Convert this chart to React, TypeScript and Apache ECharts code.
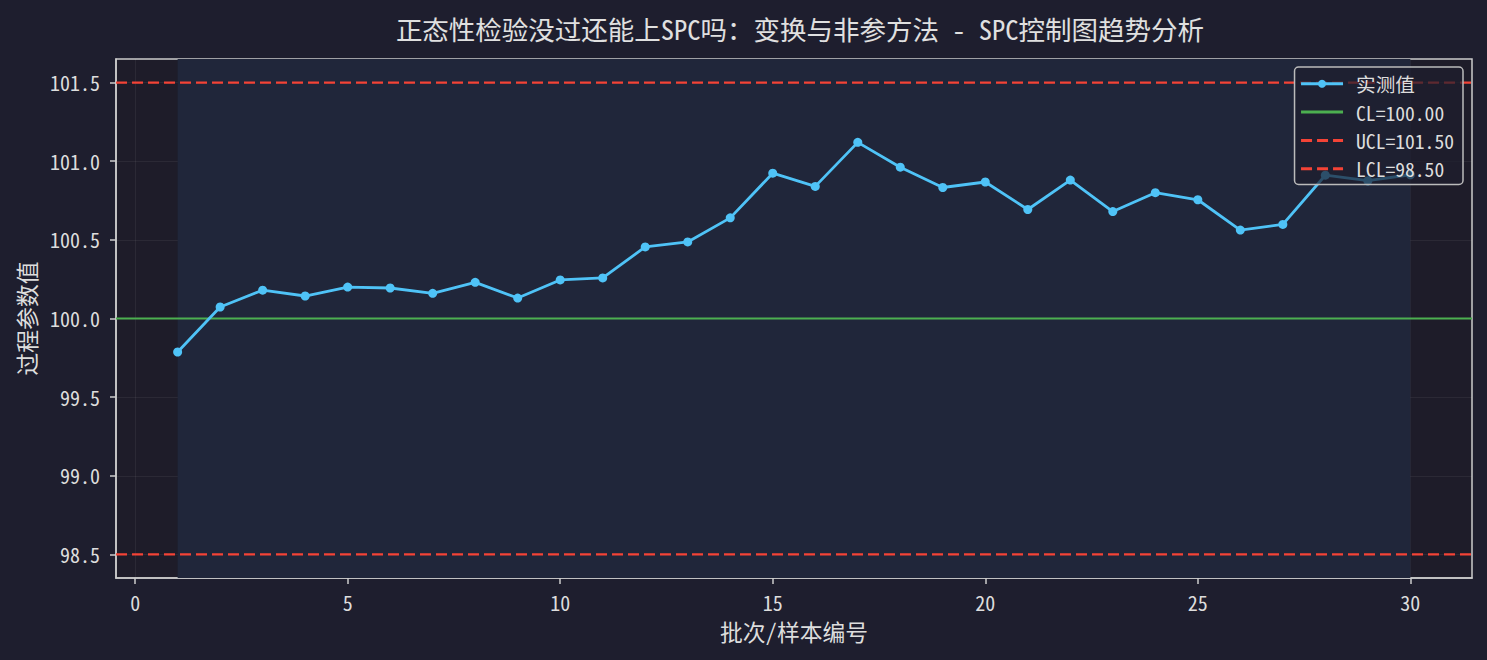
import { useEffect, useRef } from 'react';
import * as echarts from 'echarts';

const batches = [
  1, 2, 3, 4, 5, 6, 7, 8, 9, 10, 11, 12, 13, 14, 15,
  16, 17, 18, 19, 20, 21, 22, 23, 24, 25, 26, 27, 28, 29, 30,
];
const measured = [
  99.787, 100.073, 100.18, 100.143, 100.2, 100.194, 100.16, 100.23, 100.13, 100.245,
  100.258, 100.455, 100.487, 100.64, 100.924, 100.84, 101.12, 100.962, 100.833, 100.868,
  100.693, 100.88, 100.68, 100.80, 100.755, 100.562, 100.598, 100.911, 100.876, 100.914,
];
const CL = 100.0;
const UCL = 101.5;
const LCL = 98.5;
const xTicks = [0, 5, 10, 15, 20, 25, 30];
const yTicks = [98.5, 99.0, 99.5, 100.0, 100.5, 101.0, 101.5];
const xMin = -0.45;
const xMax = 31.45;
const yMin = 98.35;
const yMax = 101.65;

const FONT = "'Noto Sans Mono CJK SC', 'DejaVu Sans Mono', 'Noto Sans CJK SC', monospace";

const App = () => {
  const chartRef = useRef<HTMLDivElement>(null);

  useEffect(() => {
    if (!chartRef.current) return;
    const chart = echarts.init(chartRef.current, null, { renderer: 'svg' });

    // control limits drawn across the whole x range
    const hline = (y: number) => [[xMin, y], [xMax, y]];

    const options: echarts.EChartsOption = {
      animation: false,
      backgroundColor: '#1e1e2e',
      textStyle: { fontFamily: FONT },
      title: {
        text: '正态性检验没过还能上SPC吗：变换与非参方法 - SPC控制图趋势分析',
        left: 795,
        textAlign: 'center',
        top: 10,
        textStyle: { color: '#e0e0e0', fontSize: 26.5, fontWeight: 'normal', fontFamily: FONT },
      },
      legend: {
        orient: 'vertical',
        right: 24,
        top: 67,
        z: 10,
        padding: [7, 9, 6, 5],
        itemGap: 8.7,
        itemWidth: 42,
        itemHeight: 10,
        backgroundColor: 'rgba(30,30,46,0.7)',
        borderColor: '#bbbbbb',
        borderWidth: 1.5,
        borderRadius: 4,
        lineStyle: { width: 3 },
        textStyle: { color: '#dddddd', fontSize: 19.6, fontFamily: FONT, padding: [0, 0, 0, 8] },
        data: ['实测值', `CL=${CL.toFixed(2)}`, `UCL=${UCL.toFixed(2)}`, `LCL=${LCL.toFixed(2)}`],
      },
      grid: {
        left: 116,
        right: 15,
        top: 59,
        bottom: 82,
        show: true,
        backgroundColor: '#1e1c29',
        borderWidth: 1.5,
        borderColor: '#cccccc',
      },
      xAxis: {
        type: 'value',
        min: xMin,
        max: xMax,
        name: '批次/样本编号',
        nameLocation: 'middle',
        nameGap: 42,
        nameTextStyle: { color: '#dddddd', fontSize: 22.8, fontFamily: FONT },
        axisLine: { show: true, onZero: false, lineStyle: { color: '#cccccc', width: 1.5 } },
        axisTick: { show: true, length: 6, lineStyle: { color: '#cccccc', width: 1.5 }, customValues: xTicks },
        axisLabel: { color: '#dddddd', fontSize: 20, margin: 14, customValues: xTicks, fontFamily: FONT },
        splitLine: { show: true, lineStyle: { color: 'rgba(255,255,255,0.06)', width: 1 } },
      },
      yAxis: {
        type: 'value',
        min: yMin,
        max: yMax,
        name: '过程参数值',
        nameLocation: 'middle',
        nameGap: 78,
        nameRotate: 90,
        nameTextStyle: { color: '#dddddd', fontSize: 22.8, fontFamily: FONT },
        axisLine: { show: true, onZero: false, lineStyle: { color: '#cccccc', width: 1.5 } },
        axisTick: { show: true, length: 6, lineStyle: { color: '#cccccc', width: 1.5 }, customValues: yTicks },
        axisLabel: {
          color: '#dddddd',
          fontSize: 20,
          margin: 16,
          customValues: yTicks,
          fontFamily: FONT,
          formatter: (v: number) => v.toFixed(1),
        },
        splitLine: { show: true, lineStyle: { color: 'rgba(255,255,255,0.06)', width: 1 } },
      },
      series: [
        {
          name: '实测值',
          type: 'line',
          data: batches.map((b, i) => [b, measured[i]]),
          symbol: 'circle',
          symbolSize: 9,
          z: 3,
          lineStyle: { color: '#4fc3f7', width: 2.8 },
          itemStyle: { color: '#4fc3f7' },
          markArea: {
            silent: true,
            itemStyle: { color: '#20263a' },
            data: [[{ xAxis: batches[0] }, { xAxis: batches[batches.length - 1] }]],
          },
        },
        {
          name: `CL=${CL.toFixed(2)}`,
          type: 'line',
          data: hline(CL),
          symbol: 'none',
          z: 2,
          lineStyle: { color: '#4caf50', width: 2.2 },
          itemStyle: { color: 'transparent', borderWidth: 0 },
        },
        {
          name: `UCL=${UCL.toFixed(2)}`,
          type: 'line',
          data: hline(UCL),
          symbol: 'none',
          z: 2,
          lineStyle: { color: '#f44336', width: 2.2, type: [11, 5] },
          itemStyle: { color: 'transparent', borderWidth: 0 },
        },
        {
          name: `LCL=${LCL.toFixed(2)}`,
          type: 'line',
          data: hline(LCL),
          symbol: 'none',
          z: 2,
          lineStyle: { color: '#f44336', width: 2.2, type: [11, 5] },
          itemStyle: { color: 'transparent', borderWidth: 0 },
        },
      ],
    };

    chart.setOption(options);
    return () => {
      chart.dispose();
    };
  }, []);

  return (
    <div
      ref={chartRef}
      style={{ position: 'fixed', left: 0, top: 0, width: '1487px', height: '660px' }}
    />
  );
};

export default App;
